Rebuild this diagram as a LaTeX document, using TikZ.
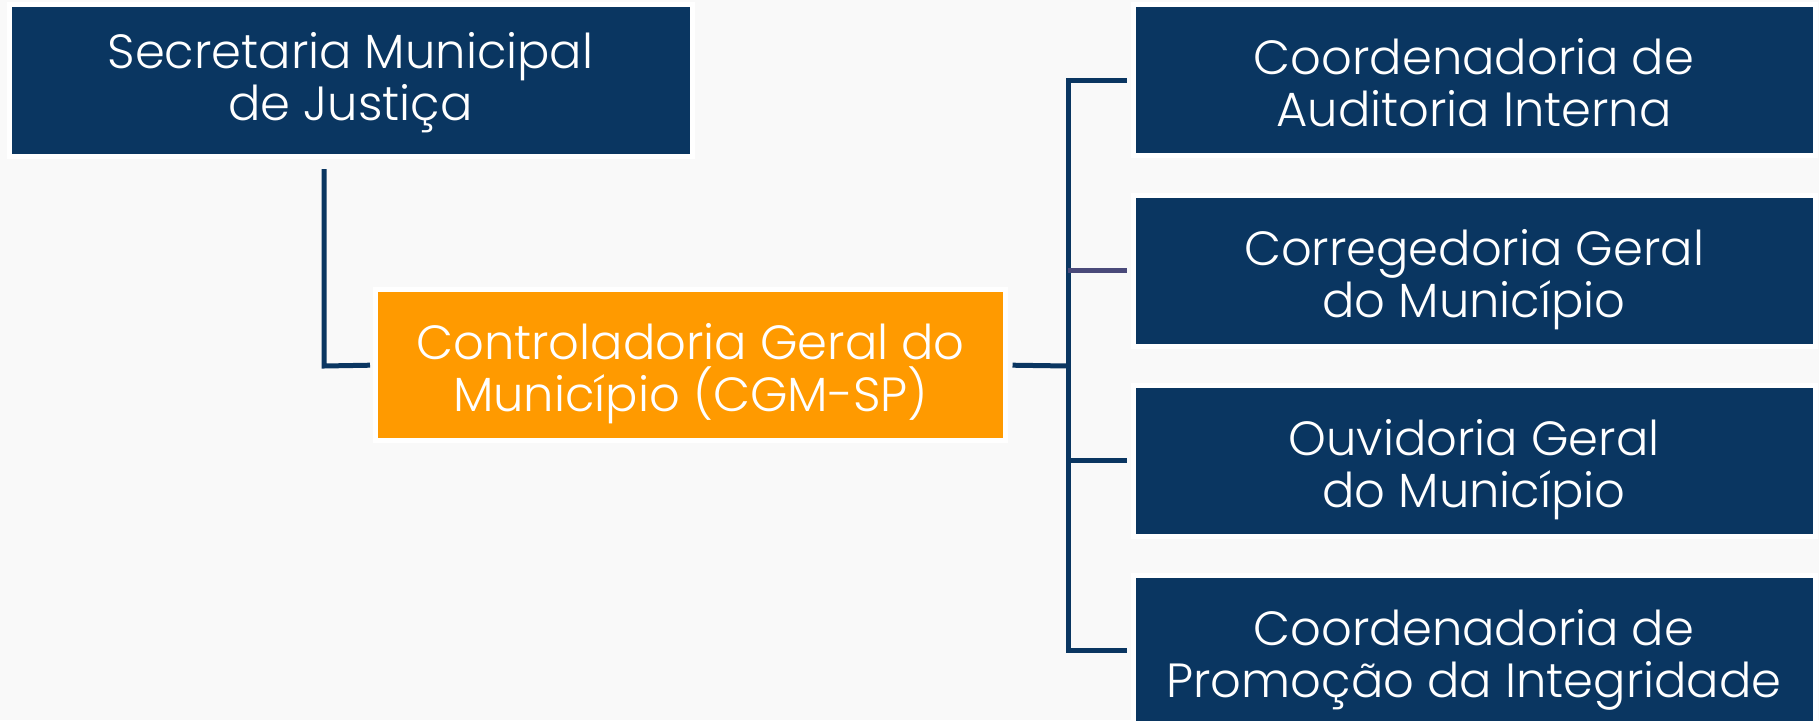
\documentclass[tikz,border=0pt]{standalone}
\usepackage{fontspec}
\setmainfont{Poppins Light}
\definecolor{navy}{HTML}{0A3661}
\definecolor{orng}{HTML}{FF9A00}
\definecolor{purp}{HTML}{4A4A7A}
\definecolor{bgc}{HTML}{F9F9F9}
\newcommand\mytop{\rule{0pt}{60pt}}
\newcommand\mybot{\rule[-19pt]{0pt}{19pt}}
\newcommand\mytopb{\rule{0pt}{50pt}}
\newcommand\mybotb{\rule[-23pt]{0pt}{23pt}}
\begin{document}
\begin{tikzpicture}[x=1pt,y=1pt,
  box/.style={draw=white,line width=5pt,fill=navy,text=white,align=center,
    inner sep=0pt,font=\fontsize{48}{52}\selectfont},
  bluebox/.style={box,minimum width=682pt,minimum height=151pt},
  orangebox/.style={box,fill=orng,minimum width=630pt,minimum height=151.5pt},
  conn/.style={draw=navy,line width=5pt},
  connp/.style={draw=purp,line width=5pt}]
\fill[bgc] (0,0) rectangle (1819,-720);
\useasboundingbox (0,0) rectangle (1819,-720);
\node[box,minimum width=683pt,minimum height=152pt] (sec) at (350.5,-80.5) {\mytopb Secretaria Municipal\\de Justiça\mybotb};
\node[orangebox] (cgm) at (690.5,-365.2) {\mytop Controladoria Geral do\\Município (CGM-SP)\mybot};
\node[bluebox] (b1) at (1474,-80) {\mytop Coordenadoria de\\Auditoria Interna\mybot};
\node[bluebox] (b2) at (1474,-270.5) {\mytop Corregedoria Geral\\do Município\mybot};
\node[bluebox] (b3) at (1474,-460.7) {\mytop Ouvidoria Geral\\do Município\mybot};
\node[bluebox] (b4) at (1474,-650.6) {\mytop Coordenadoria de\\Promoção da Integridade\mybot};
\coordinate (jx) at (324,-366);
\coordinate (bus) at (1068,-366);
\draw[conn] ([yshift=-10pt]sec.south -| jx) -- (jx) -- ([xshift=-3pt]cgm.west);
\draw[conn] ([xshift=-4pt]b1.west) -- (b1.west -| bus) -- (b4.west -| bus) -- ([xshift=-4pt]b4.west);
\draw[connp] (b2.west -| bus) -- ([xshift=-4pt]b2.west);
\draw[conn] (b3.west -| bus) -- ([xshift=-4pt]b3.west);
\draw[conn] ([xshift=4.5pt]cgm.east) -- (bus);
\end{tikzpicture}
\end{document}
